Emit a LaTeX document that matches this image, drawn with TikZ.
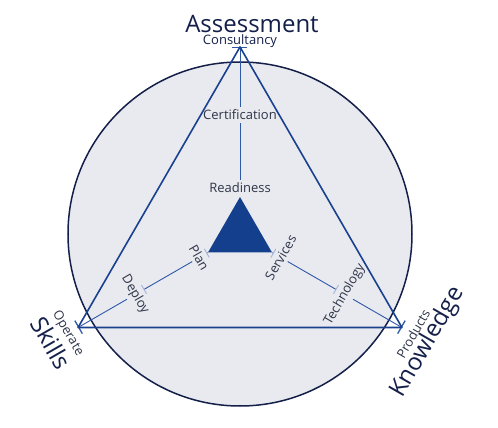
\documentclass[tikz,border=0pt]{standalone}
\usepackage{fontspec}
\setmainfont{Open Sans}
\usetikzlibrary{shapes.geometric, arrows.meta}
\definecolor{navy}{HTML}{14204A}
\definecolor{triblue}{HTML}{1A4090}
\definecolor{coreblue}{HTML}{133F8C}
\definecolor{spokeblue}{HTML}{2D58A8}
\definecolor{paleblue}{HTML}{A3B4D8}
\definecolor{discgrey}{HTML}{E9EAEF}
\definecolor{inkgrey}{HTML}{2E3548}

\begin{document}
\begin{tikzpicture}[x=1pt, y=1pt,
        headline/.style={font=\fontsize{24}{26}\selectfont, text=navy, inner sep=0pt},
        tag/.style={font=\fontsize{13}{15}\selectfont, text=inkgrey, inner sep=3pt},
        spoke/.style={draw=spokeblue, line width=0.9pt},
        outertick/.style={{Bar[width=15pt, line width=1.3pt]}-},
        innertick/.style={{Bar[width=10pt, color=paleblue]}-}]
        \useasboundingbox (-240,-194) rectangle (258,234);

        % Disc
        \draw[draw=navy, fill=discgrey, line width=1.5pt] (0,0) circle (172);
        \coordinate (apexpt) at (90:187);
        \coordinate (leftpt) at (210:187);
        \coordinate (rightpt) at (330:187);

        % Nodes
        \node (core) [regular polygon, regular polygon sides=3, minimum size=74pt, inner sep=0pt, fill=coreblue] at (0,0) {};
        \node (consult) [tag, text=navy] at (90:193) {Consultancy};
        \node (assess) [headline] at (12,210) {Assessment};
        \node (cert) [tag] at (90:119) {Certification};
        \node (ready) [tag] at (90:46) {Readiness};
        \node (operate) [tag, rotate=-60] at (210:199) {Operate};
        \node (skills) [headline, rotate=-60] at (210:218) {Skills};
        \node (deploy) [tag, rotate=-60] at (210:121) {Deploy};
        \node (plan) [tag, rotate=-60] at (210:47) {Plan};
        \node (products) [tag, rotate=60] at (330:200) {Products};
        \node (knowledge) [headline, rotate=60] at (330:217) {Knowledge};
        \node (tech) [tag, rotate=60] at (330:121) {Technology};
        \node (services) [tag, rotate=60] at (330:47) {Services};

        % Edges
        \draw[spoke, outertick] (apexpt) -- (cert);
        \draw[spoke] (cert) -- (ready);
        \draw[spoke, outertick] (leftpt) -- (deploy);
        \draw[spoke, innertick] (deploy) -- (plan);
        \draw[spoke, innertick] (plan) -- (core.corner 2);
        \draw[spoke, outertick] (rightpt) -- (tech);
        \draw[spoke, innertick] (tech) -- (services);
        \draw[spoke, innertick] (services) -- (core.corner 3);

        % Frame
        \draw[draw=triblue, line width=1.6pt, line join=round] (apexpt) -- (leftpt) -- (rightpt) -- cycle;
    \end{tikzpicture}
\end{document}
